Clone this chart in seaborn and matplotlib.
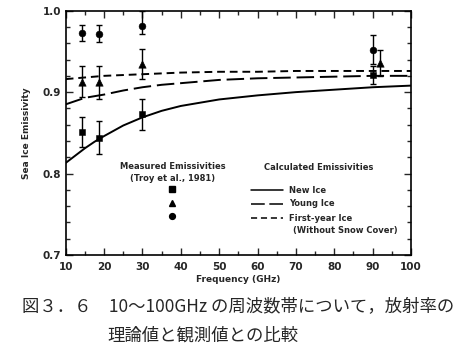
import matplotlib
matplotlib.use("Agg")
import matplotlib.pyplot as plt
import numpy as np
import pandas as pd
import seaborn as sns
from matplotlib.ticker import MultipleLocator, FormatStrFormatter

# calculated emissivity curves
freq_calc = [10, 12.5, 15, 17.5, 20, 25, 30, 35, 40, 50, 60, 70, 80, 90, 100]
new_ice = [0.813, 0.822, 0.831, 0.839, 0.846, 0.859, 0.869, 0.877, 0.883, 0.891, 0.896, 0.900, 0.903, 0.906, 0.908]
young_ice = [0.885, 0.889, 0.893, 0.895, 0.897, 0.902, 0.906, 0.909, 0.911, 0.915, 0.917, 0.918, 0.919, 0.920, 0.920]
first_year_ice = [0.916, 0.917, 0.918, 0.919, 0.920, 0.921, 0.922, 0.923, 0.924, 0.925, 0.925, 0.926, 0.926, 0.926, 0.926]

# measured emissivities (Troy et al., 1981)
freq_new = [14.3, 18.8, 30, 90]
meas_new = [0.851, 0.844, 0.873, 0.921]
err_new = [0.018, 0.020, 0.019, 0.0105]

freq_young = [14.3, 18.8, 30, 92]
meas_young = [0.913, 0.912, 0.935, 0.936]
err_young = [0.019, 0.020, 0.0185, 0.0156]

freq_fy = [14.3, 18.8, 30, 90]
meas_fy = [0.973, 0.972, 0.981, 0.952]
err_fy_lo = [0.010, 0.010, 0.009, 0.018]
err_fy_hi = [0.010, 0.010, 0.019, 0.018]

sns.set_style("ticks")
plt.rcParams['font.family'] = ['DejaVu Sans', 'Noto Sans CJK JP']

df_calc = pd.DataFrame({'freq': freq_calc, 'new': new_ice, 'young': young_ice, 'fy': first_year_ice})

fig = plt.figure(figsize=(4.74, 3.58), dpi=100)
ax = fig.add_axes([0.1386, 0.288, 0.7286, 0.682])

sns.lineplot(data=df_calc, x='freq', y='new', ax=ax, color='black', lw=1.4)
sns.lineplot(data=df_calc, x='freq', y='young', ax=ax, color='black', lw=1.4)
ax.lines[-1].set_dashes([9, 3])
sns.lineplot(data=df_calc, x='freq', y='fy', ax=ax, color='black', lw=1.4)
ax.lines[-1].set_dashes([4, 2.5])

eb = dict(fmt='none', ecolor='black', elinewidth=1, capsize=2.5, capthick=1)
ax.errorbar(freq_new, meas_new, yerr=err_new, **eb)
ax.errorbar(freq_young, meas_young, yerr=err_young, **eb)
ax.errorbar(freq_fy, meas_fy, yerr=[err_fy_lo, err_fy_hi], **eb)
sns.scatterplot(x=freq_new, y=meas_new, ax=ax, marker='s', s=22, color='black', edgecolor='black')
sns.scatterplot(x=freq_young, y=meas_young, ax=ax, marker='^', s=28, color='black', edgecolor='black')
sns.scatterplot(x=freq_fy, y=meas_fy, ax=ax, marker='o', s=24, color='black', edgecolor='black')

ax.set_xlim(10, 100)
ax.set_ylim(0.7, 1.0)
ax.xaxis.set_major_locator(MultipleLocator(10))
ax.xaxis.set_minor_locator(MultipleLocator(5))
ax.xaxis.set_major_formatter(FormatStrFormatter('%d'))
ax.yaxis.set_major_locator(MultipleLocator(0.1))
ax.yaxis.set_minor_locator(MultipleLocator(0.02))
ax.yaxis.set_major_formatter(FormatStrFormatter('%.1f'))
ax.tick_params(which='both', direction='in', top=True, right=True, width=1, labelsize=7.5)
ax.tick_params(which='major', length=5)
ax.tick_params(which='minor', length=3)
ax.tick_params(axis='x', pad=5)
for t in ax.get_xticklabels() + ax.get_yticklabels():
    t.set_fontweight('bold')
for s in ax.spines.values():
    s.set_linewidth(1.2)
    s.set_color('black')

ax.set_xlabel('Frequency (GHz)', fontsize=6.5, fontweight='bold', labelpad=2)
ax.set_ylabel('Sea Ice Emissivity', fontsize=6.5, fontweight='bold', labelpad=8)

# legend blocks, placed in axes fraction
tr = ax.transAxes
def ax_xy(px, py):
    x0, x1 = 65.7, 411
    y0, y1 = 255, 10.7
    return (px - x0) / (x1 - x0), (py - y0) / (y1 - y0)

lx, ly = ax_xy(173, 167)
ax.text(lx, ly, 'Measured Emissivities', transform=tr, ha='center', va='center', fontsize=6, fontweight='bold')
lx, ly = ax_xy(173, 178.5)
ax.text(lx, ly, '(Troy et al., 1981)', transform=tr, ha='center', va='center', fontsize=6, fontweight='bold')
for mk, py, ms in [('s', 189.5, 3.8), ('^', 203.5, 4.6), ('o', 216.5, 4.2)]:
    mx, my = ax_xy(172, py)
    ax.plot([mx], [my], marker=mk, color='black', ms=ms, transform=tr, ls='none')

lx, ly = ax_xy(319, 168)
ax.text(lx, ly, 'Calculated Emissivities', transform=tr, ha='center', va='center', fontsize=6, fontweight='bold')
labels = ['New Ice', 'Young Ice', 'First-year Ice']
dashes = [None, [9, 3], [4, 2.5]]
for lab, py, ds in zip(labels, [190.5, 204, 218.5], dashes):
    xa, ya = ax_xy(251, py)
    xb, _ = ax_xy(283, py)
    ln, = ax.plot([xa, xb], [ya, ya], color='black', lw=1.1, transform=tr)
    if ds:
        ln.set_dashes(ds)
    tx, _ = ax_xy(289, py)
    ax.text(tx, ya, lab, transform=tr, ha='left', va='center', fontsize=6, fontweight='bold')
tx, ty = ax_xy(293, 230.5)
ax.text(tx, ty, '(Without Snow Cover)', transform=tr, ha='left', va='center', fontsize=6, fontweight='bold')

# caption
fig.text(22 / 474, 1 - 306 / 358, '図３．６　10～100GHz の周波数帯について，放射率の',
         family=['Noto Sans CJK JP'], fontsize=12.5, ha='left', va='center')
fig.text(107 / 474, 1 - 336 / 358, '理論値と観測値との比較',
         family=['Noto Sans CJK JP'], fontsize=12.5, ha='left', va='center')

fig.savefig('out.png', dpi=100)
